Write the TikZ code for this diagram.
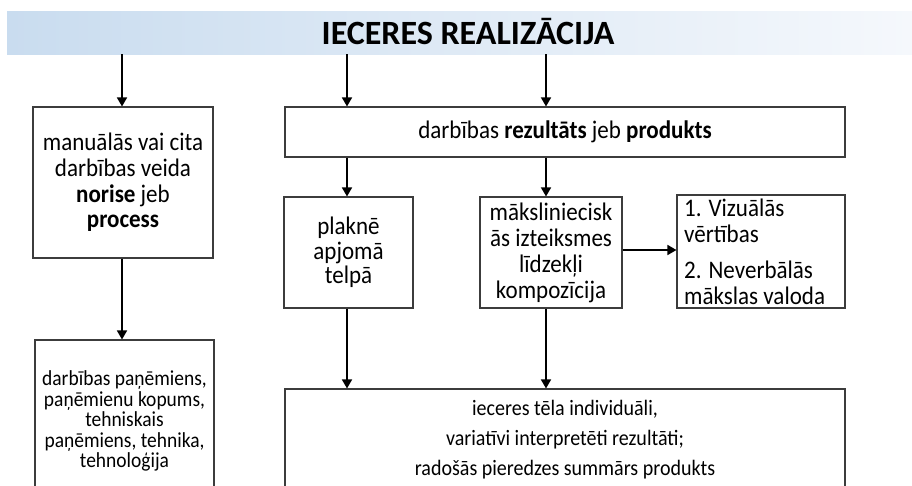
\documentclass[tikz,border=0pt]{standalone}
\usepackage{fontspec}
\setmainfont[FakeStretch=0.91]{Carlito}
\newfontfamily\titlefont{Carlito}
\usetikzlibrary{arrows.meta,calc}
\definecolor{bandL}{HTML}{C9DCEF}
\definecolor{bandR}{HTML}{F5F8FC}
\definecolor{boxline}{HTML}{3C3C3C}
\begin{document}
\begin{tikzpicture}[x=1pt,y=-1pt,
  box/.style={draw=boxline, line width=1.1pt, inner sep=0pt, align=center},
  arr/.style={line width=1.6pt, -{Triangle[width=10pt,length=9pt]}},
  big/.style={font=\fontsize{25.3}{25.6}\selectfont},
]
\useasboundingbox (0,0) rectangle (912,485);
\clip (0,0) rectangle (912,485);
\node[minimum width=905pt, minimum height=43pt, inner sep=0pt, left color=bandL, right color=bandR] (band) at (459.5,32.5) {};
\node[font=\titlefont\fontsize{34}{40}\selectfont\bfseries] (title) at (468,32) {IECERES REALIZĀCIJA};

\node[box, minimum width=180pt, minimum height=151pt, big] (lbox) at (123,182.5) {manuālās vai cita\\darbības veida\\\textbf{norise} jeb\\\textbf{process}};
\node[box, minimum width=179pt, minimum height=180pt] (llbox) at (124.5,430) {};
\node[font=\fontsize{21.4}{20.5}\selectfont, align=center] (lltext) at (124.5,421) {darbības paņēmiens,\\paņēmienu kopums,\\tehniskais\\paņēmiens, tehnika,\\tehnoloģija};

\node[box, minimum width=560pt, minimum height=50pt, big] (wbox) at (565,132) {darbības \textbf{rezultāts} jeb \textbf{produkts}};
\node[box, minimum width=129pt, minimum height=111pt, font=\fontsize{25.3}{24.5}\selectfont] (pbox) at (348.5,252.5) {plaknē\\apjomā\\telpā};
\node[box, minimum width=142pt, minimum height=111pt, font=\fontsize{25.3}{26}\selectfont] (mbox) at (551,252.5) {māksliniecisk\\ās izteiksmes\\līdzekļi\\kompozīcija};
\node[box, minimum width=168pt, minimum height=113pt] (rbox) at (761,251.5) {};
\node[font=\fontsize{25.3}{26}\selectfont, align=left, anchor=west, inner sep=0pt] (rtext) at (684,251.5) {1. Vizuālās\\vērtības\\[10pt]2. Neverbālās\\mākslas valoda};

\node[box, minimum width=560pt, minimum height=142pt] (bbox) at (565,460) {};
\node[font=\fontsize{22}{30}\selectfont, align=center] (btext) at (565,440) {ieceres tēla individuāli,\\variatīvi interpretēti rezultāti;\\radošās pieredzes summārs produkts};

\coordinate (cl) at (122,0);
\coordinate (cp) at (347,0);
\coordinate (cm) at (546,0);
\coordinate (ca) at (0,250);
\draw[arr] (band.south -| cl) -- (lbox.north -| cl);
\draw[arr] (band.south -| cp) -- (wbox.north -| cp);
\draw[arr] (band.south -| cm) -- (wbox.north -| cm);
\draw[arr] (lbox.south -| cl) -- (llbox.north -| cl);
\draw[arr] (wbox.south -| cp) -- (pbox.north -| cp);
\draw[arr] (wbox.south -| cm) -- (mbox.north -| cm);
\draw[arr] (pbox.south -| cp) -- (bbox.north -| cp);
\draw[arr] (mbox.south -| cm) -- (bbox.north -| cm);
\draw[arr] (mbox.east |- ca) -- (rbox.west |- ca);
\end{tikzpicture}
\end{document}
